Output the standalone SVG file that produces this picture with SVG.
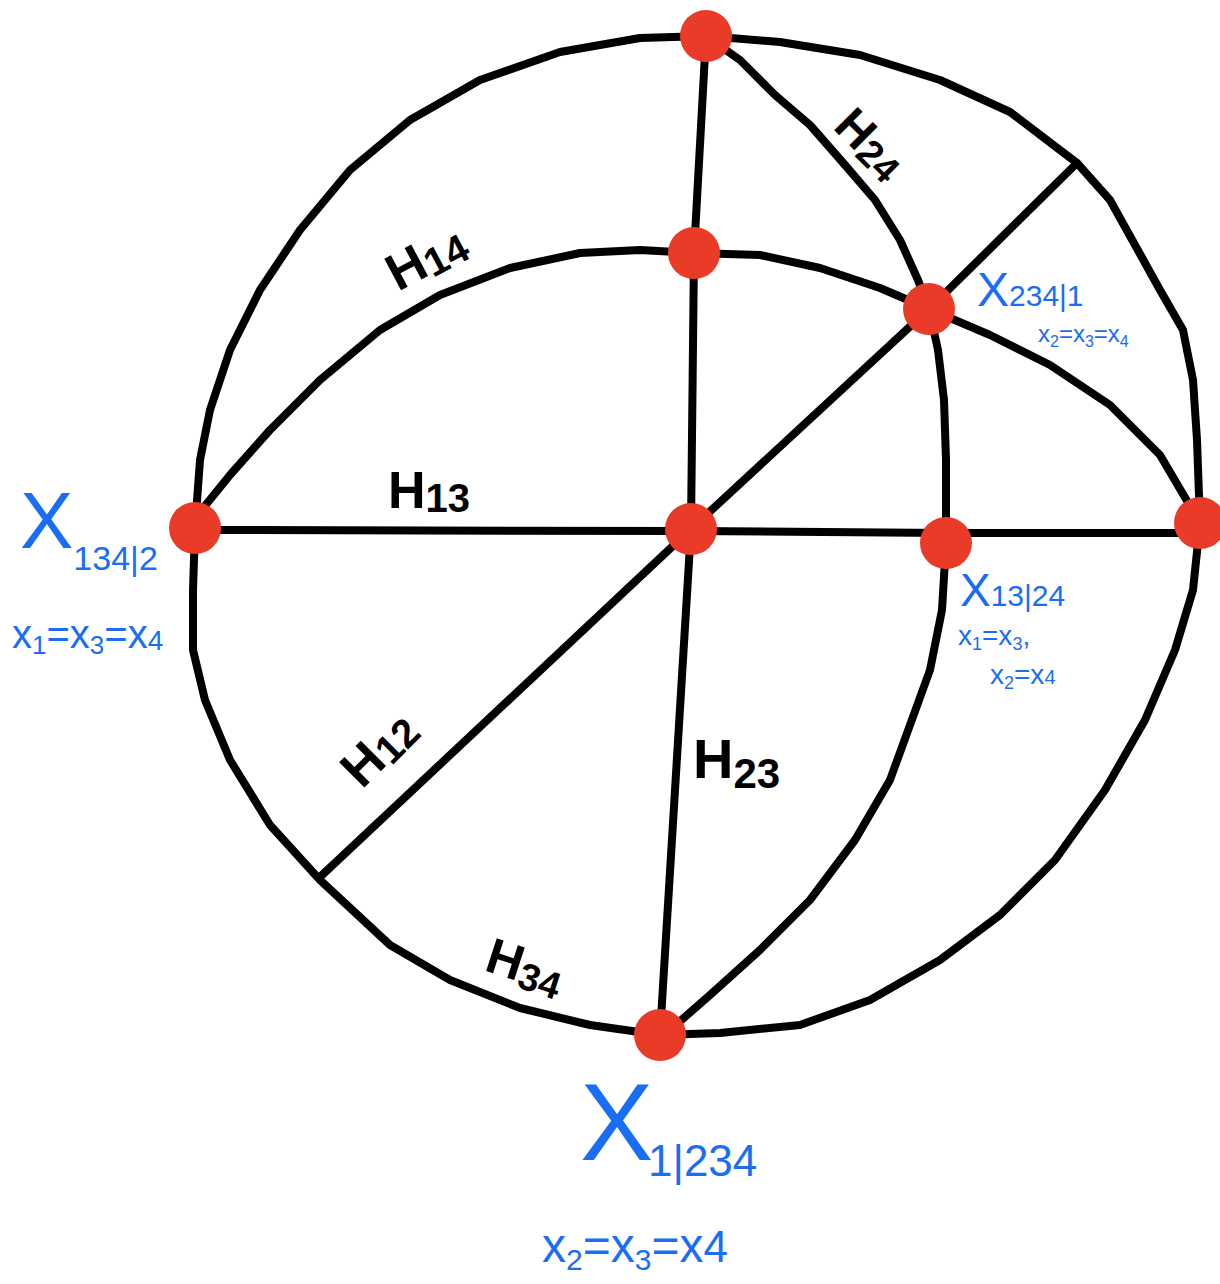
<svg xmlns="http://www.w3.org/2000/svg" width="1220" height="1284" viewBox="0 0 1220 1284">
<style>
.ln{fill:none;stroke:#000;stroke-width:8;stroke-linecap:round;stroke-linejoin:round}
.nd{fill:#ea3a28}
.h{font-family:"Liberation Sans",sans-serif;font-weight:bold;fill:#000}
.b{font-family:"Liberation Sans",sans-serif;fill:#1a6ef5}
</style>
<rect width="1220" height="1284" fill="#fff"/>
<g id="connectors">
<polyline class="ln" points="706,36 780,42 860,55 940,80 1010,112 1077,163 1110,200 1135,245 1160,290 1183,330 1193,380 1197,440 1200,523 1193,590 1175,650 1145,720 1105,790 1055,860 1000,915 940,960 870,1000 800,1025 720,1033 660,1035 590,1025 520,1008 450,980 390,945 320,880 270,825 230,760 205,700 193,650 193,590 195,528 200,460 210,410 230,350 260,290 300,230 350,170 410,120 480,80 560,52 640,38 706,36"/>
<polyline class="ln" points="706,36 694,253 691,529 660,1035"/>
<polyline class="ln" points="195,530 691,531 946,533 1200,533"/>
<polyline class="ln" points="1077,163 929,309 691,529 320,877"/>
<polyline class="ln" points="200,512 230,475 270,430 320,380 380,330 440,295 510,268 580,253 640,250 694,253 760,255 820,268 880,288 929,309 990,335 1050,365 1110,405 1160,455 1200,523"/>
<polyline class="ln" points="706,36 740,60 775,95 810,125 845,165 875,200 900,240 918,280 929,309 938,350 944,400 946,460 946,543 942,610 930,670 910,725 890,780 855,840 810,900 760,950 710,995 670,1030"/>
</g>
<g id="labels">
<text class="h" font-size="52" transform="translate(398,292) rotate(-28)">H<tspan font-size="40" dy="4">14</tspan></text>
<text class="h" font-size="52" x="388" y="508">H<tspan font-size="40" dy="4">13</tspan></text>
<text class="h" font-size="48" transform="translate(832,128) rotate(45)">H<tspan font-size="38" dy="4">24</tspan></text>
<text class="h" font-size="52" transform="translate(362,790) rotate(-45)">H<tspan font-size="40" dy="4">12</tspan></text>
<text class="h" font-size="56" x="693" y="778">H<tspan font-size="42" dy="10">23</tspan></text>
<text class="h" font-size="50" transform="translate(483,970) rotate(18)">H<tspan font-size="38" dy="6">34</tspan></text>
</g>
<g id="n_top"><circle class="nd" cx="706" cy="36" r="26"/></g>
<g id="n_h14"><circle class="nd" cx="694" cy="253" r="26"/></g>
<g id="n_234_1"><circle class="nd" cx="929" cy="309" r="26"/>
<text class="b" font-size="48" x="977" y="306">X<tspan font-size="30">234|1</tspan></text>
<text class="b" font-size="24" x="1038" y="342">x<tspan font-size="16" dy="5">2</tspan><tspan dy="-5">=x</tspan><tspan font-size="16" dy="5">3</tspan><tspan dy="-5">=x</tspan><tspan font-size="16" dy="5">4</tspan></text>
</g>
<g id="n_134_2"><circle class="nd" cx="195" cy="528" r="26"/>
<text class="b" font-size="80" x="20" y="548">X<tspan font-size="34" dy="22">134|2</tspan></text>
<text class="b" font-size="40" x="12" y="648">x<tspan font-size="26" dy="6">1</tspan><tspan dy="-6">=x</tspan><tspan font-size="26" dy="6">3</tspan><tspan dy="-6">=x</tspan><tspan font-size="28" dy="2">4</tspan></text>
</g>
<g id="n_center"><circle class="nd" cx="691" cy="529" r="26"/></g>
<g id="n_13_24"><circle class="nd" cx="946" cy="543" r="26"/>
<text class="b" font-size="46" x="960" y="606">X<tspan font-size="30" dy="0">13|24</tspan></text>
<text class="b" font-size="28" x="958" y="645">x<tspan font-size="18" dy="5">1</tspan><tspan dy="-5">=x</tspan><tspan font-size="18" dy="5">3</tspan><tspan dy="-5">,</tspan></text>
<text class="b" font-size="28" x="990" y="684">x<tspan font-size="18" dy="5">2</tspan><tspan dy="-5">=x</tspan><tspan font-size="20">4</tspan></text>
</g>
<g id="n_right"><circle class="nd" cx="1200" cy="523" r="26"/></g>
<g id="n_1_234"><circle class="nd" cx="660" cy="1035" r="26"/>
<text class="b" font-size="110" x="580" y="1160">X</text>
<text class="b" font-size="44" x="648" y="1176">1|234</text>
<text class="b" font-size="48" x="542" y="1262">x<tspan font-size="30" dy="8">2</tspan><tspan dy="-8">=x</tspan><tspan font-size="30" dy="8">3</tspan><tspan dy="-8">=x</tspan><tspan font-size="44">4</tspan></text>
</g>
</svg>
